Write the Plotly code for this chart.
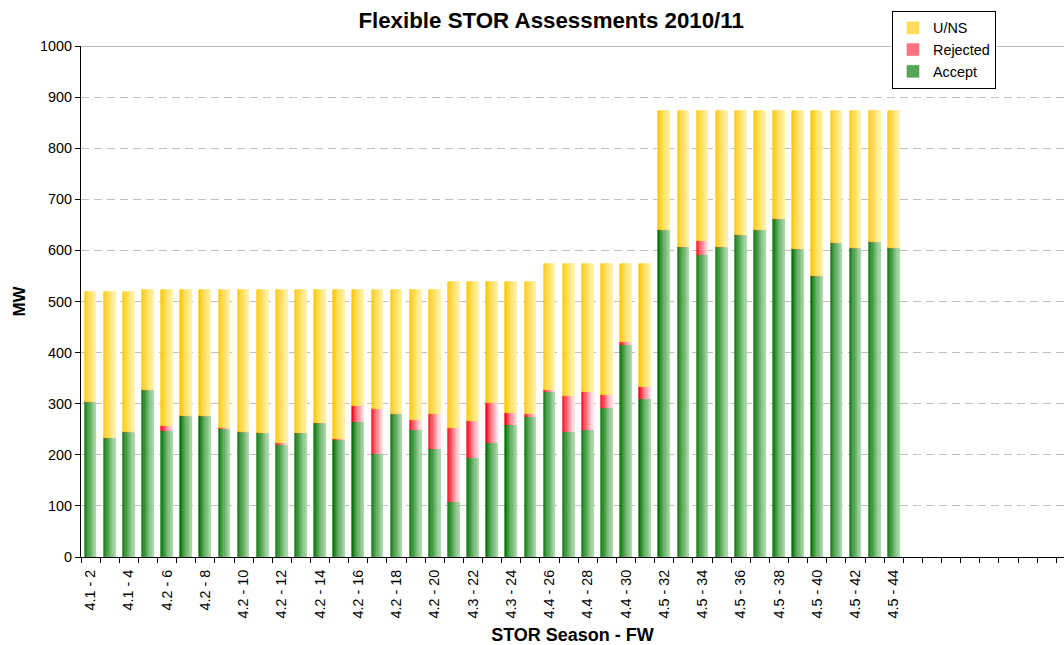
import plotly.graph_objects as go

# ---------------- data ----------------
fw = list(range(2, 45))
season = (["4.1"] * 3 + ["4.2"] * 16 + ["4.3"] * 5 + ["4.4"] * 6 + ["4.5"] * 13)

accept = [303, 233, 244, 327, 246, 276, 276, 250, 244, 242, 219, 242, 262, 229, 264,
          201, 280, 248, 211, 107,
          193, 223, 258, 274, 323, 244, 248, 292, 415, 309,
          640, 607, 591, 607, 630, 640, 661, 603, 550, 614, 605, 616, 605]
rejected = [0, 0, 0, 0, 10, 0, 0, 2, 0, 0, 4, 0, 0, 2, 31,
            89, 0, 20, 69, 145,
            73, 78, 24, 6, 4, 71, 75, 25, 6, 24,
            0, 0, 27, 0, 0, 0, 0, 0, 0, 0, 0, 0, 0]
uns = [216, 286, 275, 196, 267, 247, 247, 271, 279, 281, 300, 281, 261, 292, 228,
       233, 243, 255, 243, 287,
       273, 238, 257, 259, 247, 259, 251, 257, 153, 241,
       233, 266, 255, 266, 243, 233, 212, 270, 323, 259, 268, 257, 268]

tick_fw = [f for f in fw if f % 2 == 0]
tick_text = [f"{season[fw.index(f)]} - {f}" for f in tick_fw]

FONT = "Liberation Sans, Arial, Helvetica, sans-serif"

# gradient emulation: each bar is drawn as narrow vertical stripes (dark left -> light right)
N = 10
W = 0.61


def lerp(c1, c2, t):
    return "rgb(%d,%d,%d)" % tuple(round(a + (b - a) * t) for a, b in zip(c1, c2))


series = [
    ("Accept", accept, "zero", (0, 115, 0), (165, 212, 165), 3),
    ("Rejected", rejected, "acc", (255, 0, 20), (255, 220, 226), 2),
    ("U/NS", uns, "accrej", (255, 200, 0), (255, 240, 165), 1),
]

bases = {
    "zero": [0] * len(fw),
    "acc": accept,
    "accrej": [a + r for a, r in zip(accept, rejected)],
}

fig = go.Figure()
for name, vals, basekey, c1, c2, rank in series:
    for i in range(N):
        t = (i / (N - 1)) ** 0.8
        col = lerp(c1, c2, t)
        fig.add_trace(go.Bar(
            x=fw, y=vals, base=bases[basekey],
            width=W / N, offset=-W / 2 + i * W / N,
            marker=dict(color=col, line=dict(width=0.6, color=col)),
            name=name, legendgroup=name,
            showlegend=(i == N // 2 - 1), legendrank=rank,
            hoverinfo="skip",
        ))

fig.update_layout(
    width=1064, height=645,
    barmode="overlay",
    bargap=0,
    plot_bgcolor="white", paper_bgcolor="white",
    margin=dict(l=81, r=0, t=46, b=88, autoexpand=False),
    font=dict(family=FONT, size=14.4, color="black"),
    title=dict(text="Flexible STOR Assessments 2010/11", x=0.518, xanchor="center",
               xref="container", yref="container",
               y=0.968, yanchor="middle",
               font=dict(family=FONT, size=22.3, weight="bold", color="black")),
    legend=dict(xref="container", yref="container",
                x=996 / 1064, xanchor="right", y=1 - 11 / 645, yanchor="top",
                bgcolor="white", bordercolor="black", borderwidth=1,
                font=dict(family=FONT, size=14.4), itemwidth=30,
                tracegroupgap=0),
    showlegend=True,
)

fig.update_xaxes(
    range=[1.5, 52.9], automargin=False,
    tickmode="array", tickvals=tick_fw, ticktext=tick_text,
    tickangle=-90, ticks="", showgrid=False, zeroline=False,
    showline=True, linecolor="black", linewidth=1,
    tickfont=dict(family=FONT, size=14.4),
    ticklabelstandoff=6,
    minor=dict(ticks="outside", ticklen=5, tick0=1.5, dtick=1,
               tickcolor="black", showgrid=False),
    title=dict(text="STOR Season - FW", standoff=10,
               font=dict(family=FONT, size=18, weight="bold")),
)
fig.update_yaxes(
    range=[0, 1000], dtick=100, tick0=0, automargin=False,
    ticks="outside", ticklen=5, tickcolor="black",
    showline=True, linecolor="black", linewidth=1,
    showgrid=True, gridcolor="#C0C0C0", griddash="8px,5px", gridwidth=1,
    zeroline=False,
    tickfont=dict(family=FONT, size=14.4),
    title=dict(text="MW", standoff=10,
               font=dict(family=FONT, size=17, weight="bold")),
)

# solid top line at 1000
fig.add_shape(type="line", xref="paper", yref="y", x0=0, x1=1, y0=1000, y1=1000,
              line=dict(color="#808080", width=1), layer="below")

fig.write_html("out.html", config={"displayModeBar": False},
               post_script="document.body.style.margin='0';document.body.style.padding='0';")
